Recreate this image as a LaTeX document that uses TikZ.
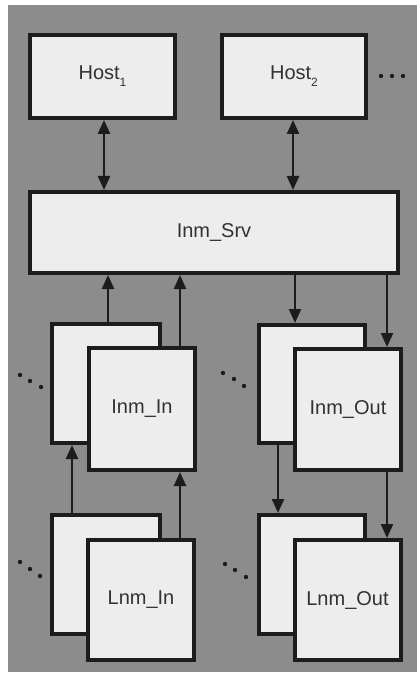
\documentclass[tikz,border=0pt]{standalone}
\usepackage{fontspec}
\setmainfont{Liberation Sans}
\usetikzlibrary{arrows.meta}
\definecolor{bgray}{RGB}{140,140,140}
\definecolor{boxfill}{RGB}{237,237,237}
\definecolor{boxline}{RGB}{28,28,28}
\definecolor{txt}{RGB}{50,50,50}
\newcommand{\mysub}[1]{\raisebox{-0.35em}{\fontsize{12}{14}\selectfont #1}}
\begin{document}
\begin{tikzpicture}[x=1pt,y=-1pt,
  box/.style={draw=boxline, fill=boxfill, line width=4pt, rectangle, inner sep=0pt,
     text=txt, font=\fontsize{20}{24}\selectfont},
  arr/.style={draw=boxline, line width=2.4pt, -{Triangle[length=14pt,width=12pt]}},
  darr/.style={draw=boxline, line width=2.4pt, {Triangle[length=14pt,width=12pt]}-{Triangle[length=14pt,width=12pt]}},
  dot/.style={fill=boxline}]
\useasboundingbox (0,0) rectangle (417,676);
\fill[white] (0,0) rectangle (417,676);
\fill[bgray] (8,5) rectangle (417,672);
% hosts
\node[box, minimum width=145pt, minimum height=83pt] (h1) at (102.5,76.5) {Host\mysub{1}};
\node[box, minimum width=144pt, minimum height=83pt] (h2) at (294,76.5) {Host\mysub{2}};
\node[box, minimum width=368pt, minimum height=81pt] (srv) at (214,232.5) {Inm\_Srv};
% upper row
\node[box, minimum width=108pt, minimum height=119pt] (inb) at (106,383.5) {};
\node[box, minimum width=106pt, minimum height=122pt] (inf) at (142,409) {Inm\_In};
\node[box, minimum width=106pt, minimum height=118pt] (outb) at (312,384) {};
\node[box, minimum width=106pt, minimum height=121pt] (outf) at (348,409.5) {Inm\_Out};
% lower row
\node[box, minimum width=108pt, minimum height=119pt] (lnb) at (106,574.5) {};
\node[box, minimum width=106pt, minimum height=120pt] (lnf) at (141,600) {Lnm\_In};
\node[box, minimum width=106pt, minimum height=119pt] (lob) at (311.5,574.5) {};
\node[box, minimum width=106pt, minimum height=120pt] (lof) at (347.5,600) {Lnm\_Out};
% x positions for connectors
\coordinate (xa) at (104,0);
\coordinate (xb) at (293,0);
\coordinate (x1) at (108,0);
\coordinate (x2) at (180,0);
\coordinate (x3) at (295,0);
\coordinate (x4) at (387,0);
\coordinate (x5) at (72,0);
\coordinate (x6) at (278,0);
% host links
\draw[darr] (h1.south -| xa) -- (srv.north -| xa);
\draw[darr] (h2.south -| xb) -- (srv.north -| xb);
% srv links
\draw[arr] (inb.north -| x1) -- (srv.south -| x1);
\draw[arr] (inf.north -| x2) -- (srv.south -| x2);
\draw[arr] (srv.south -| x3) -- (outb.north -| x3);
\draw[arr] (srv.south -| x4) -- (outf.north -| x4);
% row links
\draw[arr] (lnb.north -| x5) -- (inb.south -| x5);
\draw[arr] (lnf.north -| x2) -- (inf.south -| x2);
\draw[arr] (outb.south -| x6) -- (lob.north -| x6);
\draw[arr] (outf.south -| x4) -- (lof.north -| x4);
% dots
\foreach \p in {(381,76),(392,76),(403,76),
                (20,375),(30,381),(41,387),
                (223,373),(234,379),(244,386),
                (20,562),(30,569),(40,576),
                (225,564),(235,570),(246,577)}
  \fill[dot] \p circle (2.2pt);
\end{tikzpicture}
\end{document}
